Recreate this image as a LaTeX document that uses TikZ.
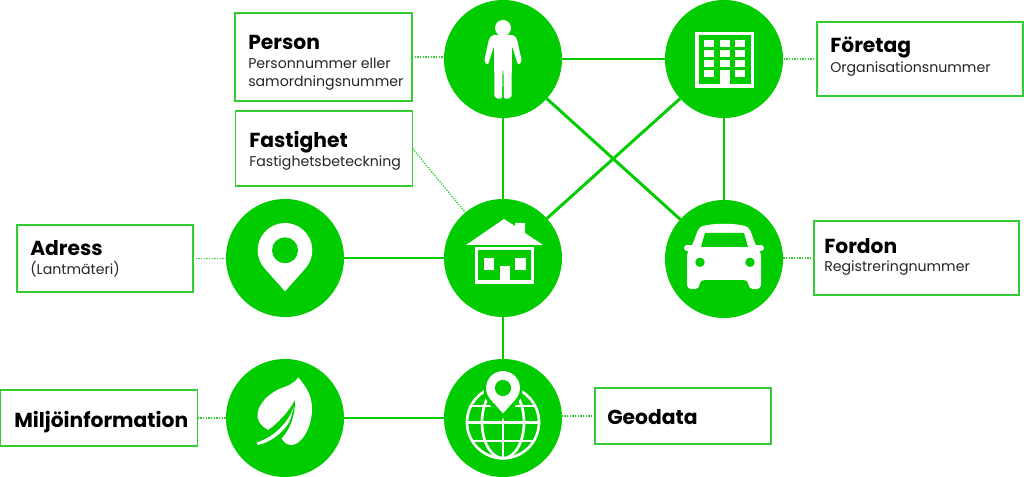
\documentclass[tikz,border=0pt]{standalone}
\usepackage{fontspec}
\usepackage{xcolor}
\setmainfont{Poppins}
\usetikzlibrary{calc}
\definecolor{discgreen}{RGB}{0,204,0}
\definecolor{boxgreen}{RGB}{51,204,51}
\newcommand{\px}{0.75pt}
\tikzset{
  disc/.style={circle,fill=discgreen,minimum size=118*\px,inner sep=0pt,outer sep=0pt},
  infobox/.style={rectangle,draw=boxgreen,line width=1.1pt,inner sep=0pt,outer sep=0pt,fill=white},
  titletext/.style={anchor=base west,inner sep=0pt,font=\bfseries\fontsize{15.2}{17}\selectfont,text=black},
  subtext/.style={anchor=base west,inner sep=0pt,align=left,font=\fontsize{10.6}{14}\selectfont,text=black!85},
  solidlink/.style={discgreen,line width=2.2pt},
  dotlink/.style={boxgreen,line width=1pt,densely dotted},
  pinmark/.pic={
    \fill[pic actions] (0,41) -- (41.7:27.3) arc[start angle=41.7,end angle=-221.7,radius=27.3] -- cycle;
    \fill[discgreen] (0,0) circle (13);
  }
}

\begin{document}
\begin{tikzpicture}[x=0.75pt,y=-0.75pt]
\useasboundingbox (0,0) rectangle (1024,477);

% Discs
\node[disc] (person) at (503,59) {};
\node[disc] (foretag) at (724,59) {};
\node[disc] (fastighet) at (503,258) {};
\node[disc] (fordon) at (724,259) {};
\node[disc] (adress) at (285,258) {};
\node[disc] (miljo) at (285,418) {};
\node[disc] (geodata) at (503,418) {};

% Boxes
\node[infobox,minimum width=177*\px,minimum height=88*\px] (personBox) at (323.5,57) {};
\node[infobox,minimum width=177*\px,minimum height=75*\px] (fastighetBox) at (324,148.5) {};
\node[infobox,minimum width=206*\px,minimum height=74*\px] (foretagBox) at (920,59) {};
\node[infobox,minimum width=205*\px,minimum height=74*\px] (fordonBox) at (916.5,258) {};
\node[infobox,minimum width=176*\px,minimum height=67*\px] (adressBox) at (105,258.5) {};
\node[infobox,minimum width=197*\px,minimum height=56*\px] (miljoBox) at (99,418) {};
\node[infobox,minimum width=176*\px,minimum height=56*\px] (geodataBox) at (683,416) {};

% Solid links
\draw[solidlink] (person) -- (foretag);
\draw[solidlink] (person) -- (fastighet);
\draw[solidlink] (person) -- (fordon);
\draw[solidlink] (foretag) -- (fastighet);
\draw[solidlink] (foretag) -- (fordon);
\draw[solidlink] (adress) -- (fastighet);
\draw[solidlink] (fastighet) -- (geodata);
\draw[solidlink] (miljo) -- (geodata);

% Dotted links
\draw[dotlink] (personBox.east) -- (personBox.east -| person.west);
\draw[dotlink] (foretagBox.west) -- (foretagBox.west -| foretag.east);
\draw[dotlink] (fordonBox.west) -- (fordonBox.west -| fordon.east);
\draw[dotlink] (adressBox.east) -- (adressBox.east -| adress.west);
\draw[dotlink] (miljoBox.east) -- (miljoBox.east -| miljo.west);
\draw[dotlink] (geodataBox.west) -- (geodataBox.west -| geodata.east);
\draw[dotlink] (fastighetBox.east) -- (fastighet);

% Texts
\node[titletext] (personTitle) at (248,50) {Person};
\node[subtext] (personSub) at (248,87) {Personnummer eller\\samordningsnummer};
\node[titletext] (fastighetTitle) at (249,148) {Fastighet};
\node[subtext] (fastighetSub) at (249,167) {Fastighetsbeteckning};
\node[titletext] (foretagTitle) at (830,53) {Företag};
\node[subtext] (foretagSub) at (830,73) {Organisationsnummer};
\node[titletext] (fordonTitle) at (824,253) {Fordon};
\node[subtext] (fordonSub) at (824,272) {Registreringnummer};
\node[titletext] (adressTitle) at (30,256) {Adress};
\node[subtext] (adressSub) at (30,275) {(Lantmäteri)};
\node[titletext] (miljoTitle) at (14,427) {Miljöinformation};
\node[titletext] (geodataTitle) at (607,424) {Geodata};

% Person icon
\begin{scope}[shift={(person.center)}]
  \fill[white] (0,-31) circle (8);
  \fill[white,rounded corners=1.5] (-11,-24) -- (11,-24) -- (14,-20) -- (19,3) -- (15,6) -- (9,-13)
    -- (8.5,39) -- (1,40) -- (0.4,10) -- (-0.4,10) -- (-1,40) -- (-8.5,39) -- (-9,-13) -- (-15,6) -- (-19,3) -- (-14,-20) -- cycle;
\end{scope}

% Building icon
\begin{scope}[shift={(foretag.center)}]
  \fill[white] (-29,-27) rectangle (30,29);
  \fill[discgreen] (-25.5,-23.5) rectangle (26.5,25.5);
  \foreach \row in {-19,-9,1,11} {
    \foreach \col in {-20,-4,11.3} {
      \fill[white] (\col,\row) rectangle ++(10,7.3);
    }
  }
  \fill[white] (-4,11) rectangle (6,29);
\end{scope}

% House icon
\begin{scope}[shift={(fastighet.center)}]
  \fill[white] (1,-39) -- (12,-32) -- (12,-35) -- (22,-35) -- (22,-25) -- (40,-13) -- (-37,-13) -- cycle;
  \fill[white] (-28,-11) rectangle (31,26);
  \fill[discgreen] (-25,-7.5) rectangle (28,22.5);
  \fill[white] (-19.3,0) rectangle (-8.7,12.3);
  \fill[white] (12.3,0) rectangle (23.3,12.3);
  \fill[white] (-3.3,7.7) rectangle (7.3,22.5);
\end{scope}

% Car icon
\begin{scope}[shift={(fordon.center)}]
  \fill[white,rounded corners=3] (-37,30) -- (-37,-7) -- (-32,-13) -- (-25,-32)
    .. controls (-10,-36) and (10,-36) .. (25,-32) -- (32,-13) -- (37,-7) -- (37,30)
    -- (25,30) -- (24,21) -- (-24,21) -- (-25,30) -- cycle;
  \draw[white,line width=4.5pt,line cap=round] (-37,-11) -- (-30,-11);
  \draw[white,line width=4.5pt,line cap=round] (30,-11) -- (37,-11);
  \fill[discgreen] (-19,-26) -- (20,-26) -- (24,-12) -- (-23,-12) -- cycle;
  \fill[discgreen] (-24,3.3) circle (4.7);
  \fill[discgreen] (26,3.3) circle (4.7);
\end{scope}

% Pin icon
\pic[white] at ($(adress.center)+(0,-7.7)$) {pinmark};

% Leaf icon
\begin{scope}[shift={(miljo.center)}]
  \fill[white] (13.3,-40.7) .. controls (22,-30) and (27,-22) .. (27,-9) .. controls (27,10) and (16,27) .. (6.7,27)
    .. controls (2,27) and (-2,24) .. (-3.3,20.3) -- (-16.7,12) .. controls (-24,8) and (-29,2) .. (-27.3,-5)
    .. controls (-26,-14) and (-18,-23) .. (-6,-29) .. controls (2,-32) and (9,-34) .. cycle;
  \fill[discgreen] (10,-18) .. controls (10,-3) and (6,10) .. (-3.3,20.3) -- (-3.3,32) -- (-34,32) -- (-34,15) -- (-16.7,12)
    .. controls (-8,6) and (4,-6) .. cycle;
  \fill[white] (-28.3,24.5) .. controls (-14,20) and (2,8) .. (8.5,-11) .. controls (7,-3) and (5,3) .. (3,6)
    .. controls (-3,15) and (-14,24) .. (-27,27) -- cycle;
\end{scope}

% Globe icon
\begin{scope}[shift={(geodata.center)}]
  \draw[white,line width=2pt] (0,4.3) circle (36);
  \draw[white,line width=2pt] (0,4.3) ellipse (21 and 36);
  \draw[white,line width=2pt] (0,-5) -- (0,40);
  \draw[white,line width=2pt] (-36,4.3) -- (36,4.3);
  \draw[white,line width=2pt] (-32,-12) -- (32,-12);
  \draw[white,line width=2pt] (-30.5,23) -- (30.5,23);
  \fill[discgreen] (0,1) -- (-11,-10) -- (-19,-22) -- (-19,-40) -- (19,-40) -- (19,-22) -- (11,-10) -- cycle;
  \pic[white,scale=0.62] at (0,-30) {pinmark};
\end{scope}

\end{tikzpicture}
\end{document}
